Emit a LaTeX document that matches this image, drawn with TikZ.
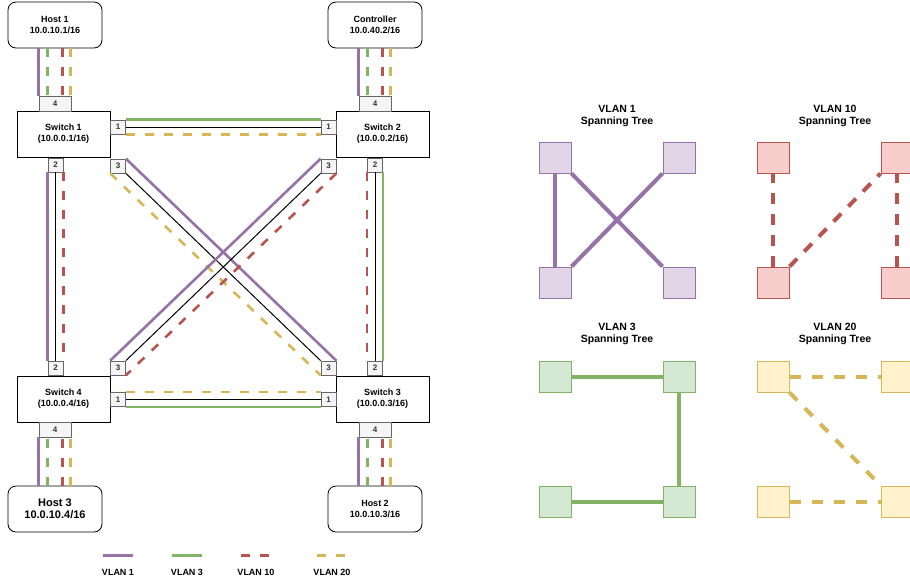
\documentclass[tikz,border=0pt]{standalone}
\usepackage{fontspec}
\setmainfont{Liberation Sans}
\usetikzlibrary{calc}

\definecolor{vonecol}{HTML}{9673A6}
\definecolor{vthreecol}{HTML}{82B366}
\definecolor{vtencol}{HTML}{B85450}
\definecolor{vtwentycol}{HTML}{D6B656}
\definecolor{onefill}{HTML}{E1D5E7}
\definecolor{threefill}{HTML}{D5E8D4}
\definecolor{tenfill}{HTML}{F8CECC}
\definecolor{twentyfill}{HTML}{FFF2CC}
\definecolor{portfill}{HTML}{F5F5F5}
\definecolor{portline}{HTML}{666666}
\definecolor{porttext}{HTML}{333333}

\tikzset{
  box/.style={draw, line width=0.8pt, minimum width=93pt, minimum height=46pt,
    inner sep=0pt, align=center, font=\bfseries\fontsize{9}{11}\selectfont},
  host/.style={box, rounded corners=8pt, minimum width=94pt},
  port/.style={draw=portline, fill=portfill, text=porttext, line width=0.7pt,
    minimum width=15pt, minimum height=14pt, inner sep=0pt,
    font=\bfseries\fontsize{8}{9}\selectfont},
  bigport/.style={port, minimum width=32pt, minimum height=15pt},
  wire/.style={black, line width=1pt},
  vone/.style={vonecol, line width=2.6pt},
  vthree/.style={vthreecol, line width=2.6pt},
  vthreedash/.style={vthree, dash pattern=on 9pt off 10pt},
  vten/.style={vtencol, line width=2.6pt, dash pattern=on 9pt off 10pt},
  vtwenty/.style={vtwentycol, line width=2.6pt, dash pattern=on 9pt off 10pt},
  legend/.style={font=\bfseries\fontsize{9}{11}\selectfont},
  title/.style={align=center, font=\bfseries\fontsize{10.5}{12.5}\selectfont},
  stbox/.style={minimum width=32pt, minimum height=31pt, inner sep=0pt, line width=1pt},
  stone/.style={stbox, draw=vonecol, fill=onefill},
  stthree/.style={stbox, draw=vthreecol, fill=threefill},
  stten/.style={stbox, draw=vtencol, fill=tenfill},
  sttwenty/.style={stbox, draw=vtwentycol, fill=twentyfill},
  treeone/.style={vonecol, line width=4pt},
  treethree/.style={vthreecol, line width=4pt},
  treeten/.style={vtencol, line width=4pt, dash pattern=on 11pt off 10pt},
  treetwenty/.style={vtwentycol, line width=4pt, dash pattern=on 11pt off 11pt}
}

\begin{document}
\begin{tikzpicture}[x=1pt,y=-1pt]
\clip (0,0) rectangle (910,582);

% hosts and switches
\node[host] (h1) at (55,25) {Host 1\\10.0.10.1/16};
\node[host] (ctrl) at (375,25) {Controller\\10.0.40.2/16};
\node[host, font=\bfseries\fontsize{11}{12.5}\selectfont] (h3) at (55,509) {Host 3\\10.0.10.4/16};
\node[host] (h2) at (375,509) {Host 2\\10.0.10.3/16};

\node[box] (s1) at (63.5,134) {Switch 1\\(10.0.0.1/16)};
\node[box] (s2) at (382.5,134) {Switch 2\\(10.0.0.2/16)};
\node[box] (s4) at (63.5,399) {Switch 4\\(10.0.0.4/16)};
\node[box] (s3) at (382.5,399) {Switch 3\\(10.0.0.3/16)};

% ports
\foreach \p/\x/\y/\t in {s1p1/118/127/1, s1p2/55.5/165/2, s1p3/118/166/3,
  s2p1/328.5/127/1, s2p2/375/165/2, s2p3/328.5/166/3,
  s4p1/118/399.5/1, s4p2/55.5/368/2, s4p3/118/368/3,
  s3p1/328.5/399.5/1, s3p2/375/368/2, s3p3/328.5/368/3}
  \node[port] (\p) at (\x,\y) {\t};
\foreach \p/\x/\y in {s1p4/55/103.5, s2p4/375/103.5, s4p4/55/429.5, s3p4/375/429.5}
  \node[bigport] (\p) at (\x,\y) {4};

% host links
\foreach \h/\p in {h1/s1p4, ctrl/s2p4}
  \foreach \dx/\st in {0/vone, 9/vthreedash, 24/vten, 32/vtwenty}
    \draw[\st] ($(\p.north west |- \h.south)+(\dx,0)$) -- ($(\p.north west)+(\dx,0)$);
\foreach \h/\p in {h3/s4p4, h2/s3p4}
  \foreach \dx/\st in {0/vone, 9/vthreedash, 24/vten, 32/vtwenty}
    \draw[\st] ($(\p.south west |- \h.north)+(\dx,0)$) -- ($(\p.south west)+(\dx,0)$);

% switch 1 -- switch 2
\draw[vthree] (s1p1.north east) -- (s2p1.north west);
\draw[wire] (s1p1.east) -- (s2p1.west);
\draw[vtwenty] (s1p1.south east) -- (s2p1.south west);
% switch 4 -- switch 3
\draw[vtwenty] (s4p1.north east) -- (s3p1.north west);
\draw[wire] (s4p1.east) -- (s3p1.west);
\draw[vthree] (s4p1.south east) -- (s3p1.south west);
% switch 1 -- switch 4
\draw[vone] (s1p2.south west) -- (s4p2.north west);
\draw[wire] (s1p2.south) -- (s4p2.north);
\draw[vten] (s1p2.south east) -- (s4p2.north east);
% switch 2 -- switch 3
\draw[vten] (s2p2.south west) -- (s3p2.north west);
\draw[wire] (s2p2.south) -- (s3p2.north);
\draw[vthree] (s2p2.south east) -- (s3p2.north east);
% switch 1 -- switch 3
\draw[vtwenty] (s1p3.south west) -- (s3p3.south west);
\draw[wire] (s1p3.south east) -- (s3p3.north west);
\draw[vone] (s1p3.north east) -- (s3p3.north east);
% switch 2 -- switch 4
\draw[vten] (s2p3.south east) -- (s4p3.south east);
\draw[wire] (s2p3.south west) -- (s4p3.north east);
\draw[vone] (s2p3.north west) -- (s4p3.north west);

% legend
\foreach \n/\x/\st/\t in {lone/118/vone/VLAN 1, lthree/187/vthree/VLAN 3,
  lten/256/vten/VLAN 10, ltwenty/332/vtwenty/VLAN 20} {
  \node[legend] (\n) at (\x,572) {\t};
  \coordinate (\n a) at (\x-15,555);
  \coordinate (\n b) at (\x+15,555);
  \draw[\st, line width=3pt] (\n a) -- (\n b);
}

% spanning trees
\node[title] (tlone) at (617,116) {VLAN 1\\Spanning Tree};
\node[title] (tlten) at (835,116) {VLAN 10\\Spanning Tree};
\node[title] (tlthree) at (617,334) {VLAN 3\\Spanning Tree};
\node[title] (tltwenty) at (835,334) {VLAN 20\\Spanning Tree};

\foreach \t/\ox/\oy/\st in {one/0/0/stone, ten/218/0/stten,
  three/0/219/stthree, twenty/218/219/sttwenty}
  \foreach \n/\x/\y in {a/555/157.5, b/679/157.5, c/555/282.5, d/679/282.5}
    \node[\st] (\t\n) at (\x+\ox,\y+\oy) {};

\draw[treeone] (onea.south) -- (onec.north);
\draw[treeone] (onea.south east) -- (oned.north west);
\draw[treeone] (oneb.south west) -- (onec.north east);

\draw[treeten] (tenc.north) -- (tena.south);
\draw[treeten] (tenc.north east) -- (tenb.south west);
\draw[treeten] (tend.north) -- (tenb.south);

\draw[treethree] (threea.east) -- (threeb.west);
\draw[treethree] (threeb.south) -- (threed.north);
\draw[treethree] (threec.east) -- (threed.west);

\draw[treetwenty] (twentya.east) -- (twentyb.west);
\draw[treetwenty] (twentya.south east) -- (twentyd.north west);
\draw[treetwenty] (twentyc.east) -- (twentyd.west);
\end{tikzpicture}
\end{document}
